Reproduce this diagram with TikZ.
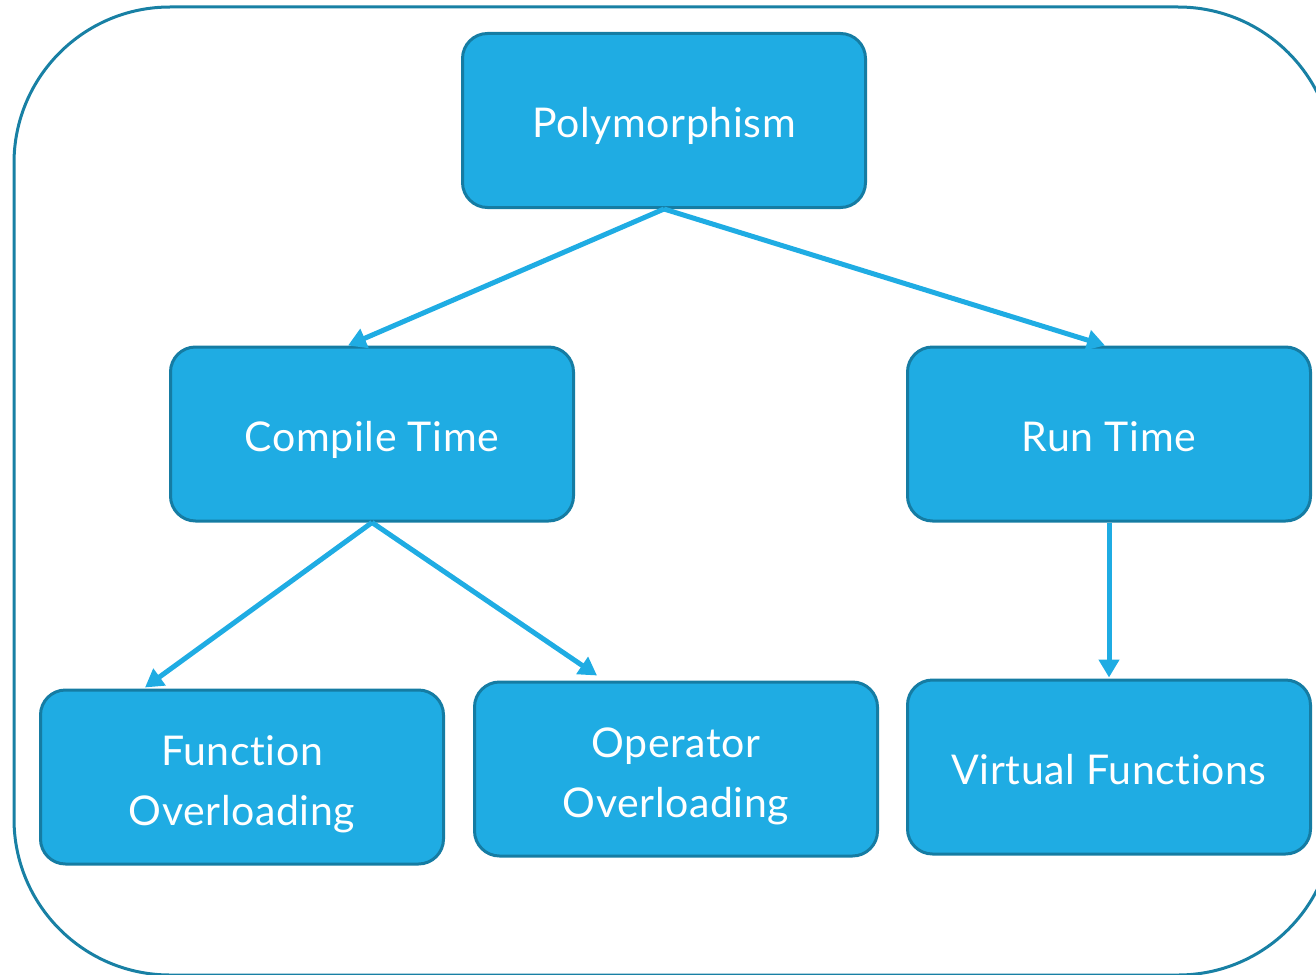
\documentclass[tikz,border=0pt]{standalone}
\usepackage{fontspec}
\setmainfont{Lato}[Ligatures={NoCommon,NoDiscretionary},LetterSpace=1.5]
\usetikzlibrary{arrows.meta}
\definecolor{boxfill}{RGB}{31,172,227}
\definecolor{boxedge}{RGB}{21,124,163}
\definecolor{frameedge}{RGB}{24,128,164}
\tikzset{
  concept/.style={draw=boxedge, line width=3pt, fill=boxfill, rounded corners=25pt,
    minimum width=403pt, minimum height=174pt, inner sep=0pt},
  caption/.style={anchor=base, text=white, inner sep=0pt,
    font=\fontsize{41}{60}\selectfont},
  link/.style={draw=boxfill, line width=5pt,
    -{Triangle[length=18pt,width=20pt]}},
}
\begin{document}
\begin{tikzpicture}[x=1pt,y=-1pt]
\useasboundingbox (0,0) rectangle (1316,974);
\clip (0,0) rectangle (1316,974);
% outer rounded frame
\draw[frameedge, line width=3pt, rounded corners=156pt] (14,7) rectangle (1334,975);
% concept boxes
\node[concept] (poly) at (664,120.5) {};
\node[concept] (compile) at (372,434) {};
\node[concept] (run) at (1109,434) {};
\node[concept] (func) at (242,777) {};
\node[concept] (oper) at (676,769) {};
\node[concept] (virt) at (1109,767) {};
% box captions, placed on their baselines
\node[caption] (polyT) at ([yshift=-16.5pt]poly.center) {Polymorphism};
\node[caption] (compileT) at ([yshift=-17pt]compile.center) {Compile Time};
\node[caption] (runT) at ([yshift=-17pt]run.center) {Run Time};
\node[caption] (funcT) at ([yshift=12pt]func.center) {Function};
\node[caption] (funcU) at ([yshift=-48pt]func.center) {Overloading};
\node[caption] (operT) at ([yshift=12pt]oper.center) {Operator};
\node[caption] (operU) at ([yshift=-48pt]oper.center) {Overloading};
\node[caption] (virtT) at ([yshift=-17pt]virt.center) {Virtual Functions};
% connectors
\draw[link] (poly.south) -- ([xshift=-24pt]compile.north);
\draw[link] (poly.south) -- ([xshift=-4pt]run.north);
\draw[link] (compile.south) -- ([xshift=-97pt,yshift=1pt]func.north);
\draw[link] (compile.south) -- ([xshift=-79pt,yshift=5pt]oper.north);
\draw[link] (run.south) -- ([yshift=1pt]virt.north);
\end{tikzpicture}
\end{document}
